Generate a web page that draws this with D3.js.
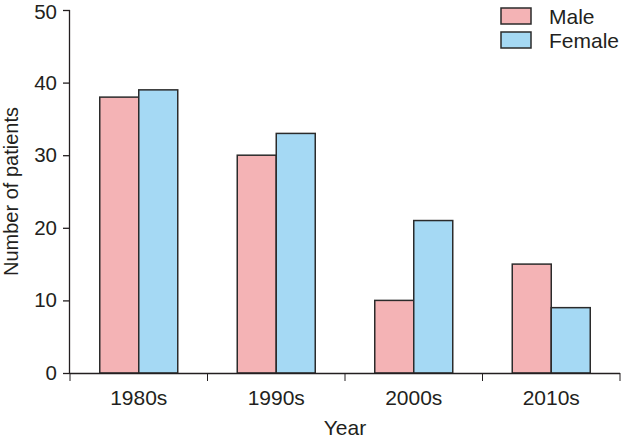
<!DOCTYPE html>
<html>
<head>
<meta charset="utf-8">
<script src="https://cdn.jsdelivr.net/npm/d3@7"></script>
<style>
  body { margin: 0; background: #fff; }
  text { font-family: "Liberation Sans", Arial, sans-serif; fill: #231f20; }
</style>
</head>
<body>
<div id="chart"></div>
<script>
// data
var years = ["1980s", "1990s", "2000s", "2010s"];
var male = [38, 30, 10, 15];
var female = [39, 33, 21, 9];
var seriesNames = ["Male", "Female"];
var seriesColors = ["#f4b3b5", "#a5d9f4"];
var yTicks = [0, 10, 20, 30, 40, 50];

var margin = {top: 10, right: 2, bottom: 67, left: 70},
    width = 622 - margin.left - margin.right,
    height = 440 - margin.top - margin.bottom;

var svg = d3.select("#chart")
  .append("svg")
    .attr("width", 622)
    .attr("height", 440)
  .append("g")
    .attr("transform", "translate(" + margin.left + "," + margin.top + ")");

var x = d3.scaleBand()
  .domain(years)
  .range([0, width]);

var x1 = d3.scaleBand()
  .domain(seriesNames)
  .range([x.bandwidth() / 2 - 39, x.bandwidth() / 2 + 39]);

var y = d3.scaleLinear()
  .domain([0, 50])
  .range([height, 0]);

var rows = years.map(function(yr, i) {
  return {year: yr, values: [male[i], female[i]]};
});

// bars
var groups = svg.selectAll("g.grp")
  .data(rows)
  .enter()
  .append("g")
    .attr("class", "grp")
    .attr("transform", function(d) { return "translate(" + x(d.year) + ",0)"; });

groups.selectAll("rect")
  .data(function(d) { return d.values.map(function(v, j) { return {s: j, v: v}; }); })
  .enter()
  .append("rect")
    .attr("x", function(d) { return x1(seriesNames[d.s]); })
    .attr("width", x1.bandwidth())
    .attr("y", function(d) { return y(d.v); })
    .attr("height", function(d) { return height - y(d.v); })
    .style("fill", function(d) { return seriesColors[d.s]; })
    .style("stroke", "#2b2b2b")
    .style("stroke-width", "1.5px");

// Y axis
var yAxis = svg.append("g")
  .call(d3.axisLeft(y).tickValues(yTicks).tickSize(7).tickPadding(6));
yAxis.selectAll("text").style("font-size", "20.5px");
// top label sits right at the edge, nudge it so it is not clipped
yAxis.selectAll("text").filter(function(d) { return d === 50; }).attr("dy", "0.42em");
yAxis.select(".domain").attr("d", "M-0.5," + y(50) + "V" + height);

// X axis, ticks at the group edges
var xAxis = svg.append("g")
  .attr("transform", "translate(0," + height + ")")
  .call(d3.axisBottom(x).tickSize(0).tickPadding(17));
xAxis.selectAll("text").style("font-size", "21px");
xAxis.select(".domain").attr("d", "M0,0.5H" + width);
xAxis.selectAll("line.edge")
  .data([0].concat(years.map(function(d) { return x(d) + x.bandwidth(); })))
  .enter()
  .append("line")
    .attr("class", "edge")
    .attr("x1", function(d) { return d; })
    .attr("x2", function(d) { return d; })
    .attr("y1", 0)
    .attr("y2", 8)
    .attr("stroke", "#231f20");
svg.selectAll(".domain, .tick line").attr("stroke", "#231f20").attr("stroke-width", 1.3);

// axis titles
svg.append("text")
  .attr("x", width / 2)
  .attr("y", height + 62)
  .attr("text-anchor", "middle")
  .style("font-size", "21px")
  .text("Year");

svg.append("text")
  .attr("transform", "rotate(-90)")
  .attr("x", -height / 2)
  .attr("y", -52)
  .attr("text-anchor", "middle")
  .style("font-size", "20px")
  .text("Number of patients");

// legend
var legend = svg.selectAll("g.leg")
  .data(seriesNames)
  .enter()
  .append("g")
    .attr("class", "leg")
    .attr("transform", function(d, i) { return "translate(431," + (i * 24 - 2) + ")"; });

legend.append("rect")
  .attr("width", 30)
  .attr("height", 16)
  .style("fill", function(d, i) { return seriesColors[i]; })
  .style("stroke", "#2b2b2b")
  .style("stroke-width", "1.5px");

legend.append("text")
  .attr("x", 48)
  .attr("y", 16)
  .style("font-size", "21px")
  .text(function(d) { return d; });
</script>
</body>
</html>
